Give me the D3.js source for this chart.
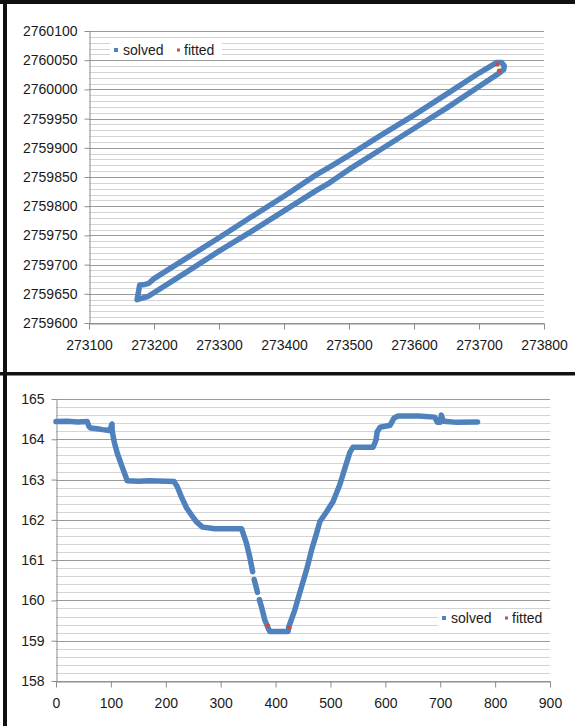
<!DOCTYPE html>
<html>
<head>
<meta charset="utf-8">
<script src="https://cdn.jsdelivr.net/npm/d3@7"></script>
<style>
  html, body { margin: 0; padding: 0; background: #fff; }
  svg { display: block; }
  text { font-family: "Liberation Sans", Arial, sans-serif; fill: #1a1a1a; }
</style>
</head>
<body>
<svg id="chart" width="575" height="726"></svg>
<script>
// ---- Upper panel: solved track (easting / northing) ----
const trackX = [273174, 273190, 273250, 273300, 273350, 273400, 273450, 273470, 273500, 273550,
                273600, 273650, 273700, 273730, 273738, 273739, 273735, 273727,
                273700, 273650, 273600, 273550, 273500, 273470, 273450, 273400, 273350,
                273300, 273250, 273200, 273192, 273186, 273178, 273174];
const trackY = [2759640, 2759645, 2759687, 2759723, 2759757, 2759792, 2759827, 2759840, 2759863, 2759898,
                2759933, 2759968, 2760005, 2760027, 2760034, 2760040, 2760046, 2760046,
                2760028, 2759992, 2759956, 2759922, 2759887, 2759867, 2759854, 2759817, 2759782,
                2759746, 2759711, 2759676, 2759668, 2759666, 2759665, 2759640];
const trackFitX = [273728, 273731];
const trackFitY = [2760043, 2760032];
const topXTicks = [273100, 273200, 273300, 273400, 273500, 273600, 273700, 273800];
const topYTicks = [2759600, 2759650, 2759700, 2759750, 2759800, 2759850, 2759900, 2759950, 2760000, 2760050, 2760100];

// ---- Lower panel: solved profile (null marks a break between runs) ----
const profX = [0, 20, 40, 57, 60, 63, 75, 85, 97, 100, 102, 102.5, 106, 111.5, 120.7, 129.8, 150, 170, 200, 215,
               221, 228.5, 237.7, 246.8, 256, 267, 290, 320, 338, 346.8, 352.8, 358.3, null,
               361, 363.8, 367, null,
               370.5, 374.2, 380.3, 386.3, 389.4, 405, 422.9, 424, 435, 447.3, 456.5, 465.6, 474.8, 480.8,
               493, 504.6, 517, 526.5, 535.6, 541, 560, 577.7, 583, 585, 590.5, 608.8, 616, 623.4, 660,
               690, 695, 700, 702, 705.7, 730, 768];
const profY = [164.44, 164.45, 164.43, 164.44, 164.32, 164.28, 164.26, 164.24, 164.22, 164.3, 164.38, 164.2, 163.94, 163.66, 163.31, 162.97, 162.96, 162.97, 162.96, 162.95,
               162.82, 162.57, 162.3, 162.12, 161.95, 161.82, 161.78, 161.78, 161.78, 161.43, 161.09, 160.71, null,
               160.52, 160.38, 160.2, null,
               160.02, 159.85, 159.52, 159.32, 159.23, 159.23, 159.23, 159.34, 159.76, 160.34, 160.76, 161.25, 161.67, 161.96,
               162.2, 162.45, 162.87, 163.29, 163.68, 163.8, 163.8, 163.8, 163.98, 164.18, 164.3, 164.35, 164.53, 164.58, 164.58,
               164.55, 164.42, 164.42, 164.6, 164.45, 164.42, 164.43];
const profFitX = [386, 425];
const profFitY = [159.37, 159.33];
const botXTicks = [0, 100, 200, 300, 400, 500, 600, 700, 800, 900];
const botYTicks = [158, 159, 160, 161, 162, 163, 164, 165];

const seriesNames = ["solved", "fitted"];
const BLUE = "#4f81bd", RED = "#c0504d";
const FONT = 14;

const svg = d3.select("#chart");

function zip(xs, ys) {
  return xs.map((x, i) => (x === null || ys[i] === null) ? null : [x, ys[i]]);
}

function panel(cfg) {
  const g = svg.append("g");
  const x = d3.scaleLinear().domain(cfg.xDomain).range(cfg.xRange);
  const y = d3.scaleLinear().domain(cfg.yDomain).range(cfg.yRange);

  // minor + major horizontal gridlines
  const minor = d3.range(cfg.yDomain[0], cfg.yDomain[1] + cfg.minorStep / 2, cfg.minorStep);
  g.append("g").selectAll("line").data(minor).join("line")
    .attr("x1", cfg.xRange[0]).attr("x2", cfg.xRange[1])
    .attr("y1", d => Math.round(y(d)) + 0.5).attr("y2", d => Math.round(y(d)) + 0.5)
    .attr("stroke", "#d4d4d4").attr("stroke-width", 1);
  g.append("g").selectAll("line").data(cfg.yTicks).join("line")
    .attr("x1", cfg.xRange[0]).attr("x2", cfg.xRange[1])
    .attr("y1", d => Math.round(y(d)) + 0.5).attr("y2", d => Math.round(y(d)) + 0.5)
    .attr("stroke", "#9a9a9a").attr("stroke-width", 1);

  // axes
  const yAxis = g.append("g")
    .attr("transform", `translate(${cfg.xRange[0] + 0.5},0)`)
    .call(d3.axisLeft(y).tickValues(cfg.yTicks).tickFormat(d3.format("d")).tickSize(5).tickPadding(7).tickSizeOuter(0));
  const xAxis = g.append("g")
    .attr("transform", `translate(0,${Math.round(y(cfg.yDomain[0])) + 0.5})`)
    .call(d3.axisBottom(x).tickValues(cfg.xTicks).tickFormat(d3.format("d")).tickSize(6).tickPadding(11).tickSizeOuter(0));
  [xAxis, yAxis].forEach(a => {
    a.select(".domain").attr("stroke", "#8c8c8c");
    a.selectAll(".tick line").attr("stroke", "#8c8c8c");
    a.selectAll("text").attr("font-size", FONT).attr("font-family", "Liberation Sans, Arial, sans-serif").attr("fill", "#1a1a1a");
  });

  // solved series
  const line = d3.line().defined(d => d !== null).x(d => x(d[0])).y(d => y(d[1])).curve(d3.curveLinear);
  g.append("path").datum(zip(cfg.sx, cfg.sy))
    .attr("d", line)
    .attr("fill", "none").attr("stroke", BLUE).attr("stroke-width", 5.5)
    .attr("stroke-linejoin", "round").attr("stroke-linecap", "round");

  // fitted series
  g.append("g").selectAll("circle").data(zip(cfg.fx, cfg.fy)).join("circle")
    .attr("cx", d => x(d[0])).attr("cy", d => y(d[1])).attr("r", 2.3)
    .attr("fill", RED);

  // legend
  const lg = g.append("g").attr("transform", `translate(${cfg.legend[0]},${cfg.legend[1]})`);
  lg.append("rect").attr("x", -6).attr("y", -9).attr("width", 112).attr("height", 17).attr("fill", "#fff");
  lg.append("rect").attr("x", -2).attr("y", -2).attr("width", 4).attr("height", 4).attr("fill", BLUE);
  lg.append("text").attr("x", 7).attr("y", 5).attr("font-size", FONT).text(seriesNames[0]);
  lg.append("rect").attr("x", 61).attr("y", -1.5).attr("width", 3).attr("height", 3).attr("fill", RED);
  lg.append("text").attr("x", 68).attr("y", 5).attr("font-size", FONT).text(seriesNames[1]);
}

panel({
  xDomain: [273100, 273800], xRange: [89, 544],
  yDomain: [2759600, 2760100], yRange: [323, 31],
  minorStep: 10, xTicks: topXTicks, yTicks: topYTicks,
  sx: trackX, sy: trackY, fx: trackFitX, fy: trackFitY,
  legend: [116, 50]
});

panel({
  xDomain: [0, 900], xRange: [56, 550],
  yDomain: [158, 165], yRange: [681, 399],
  minorStep: 0.2, xTicks: botXTicks, yTicks: botYTicks,
  sx: profX, sy: profY, fx: profFitX, fy: profFitY,
  legend: [444, 618]
});

// panel frames
svg.append("rect").attr("x", 0).attr("y", 0).attr("width", 575).attr("height", 4).attr("fill", "#111");
svg.append("rect").attr("x", 3).attr("y", 0).attr("width", 4).attr("height", 726).attr("fill", "#111");
svg.append("rect").attr("x", 0).attr("y", 372).attr("width", 575).attr("height", 3.5).attr("fill", "#111");
</script>
</body>
</html>
